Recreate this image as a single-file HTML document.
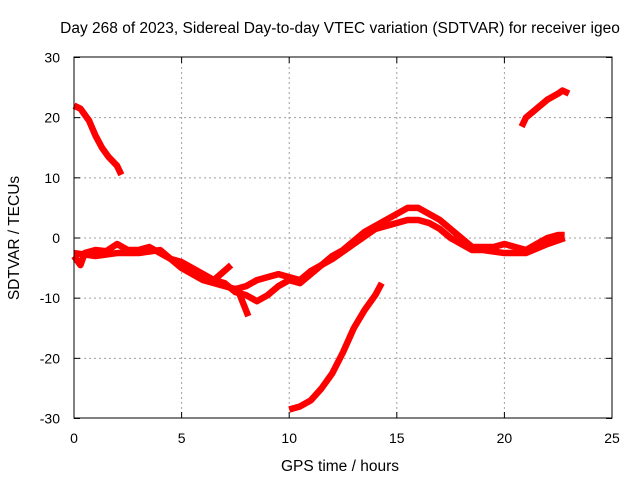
<!DOCTYPE html>
<html><head><meta charset="utf-8"><style>
body{margin:0;background:#fff}
svg{display:block;font-family:"Liberation Sans",sans-serif;font-size:14px}
</style></head><body>
<svg width="640" height="480" id="c">
<text x="340" y="33" text-anchor="middle" font-size="15.5">Day 268 of 2023, Sidereal Day-to-day VTEC variation (SDTVAR) for receiver igeo</text>
<text x="340" y="471" text-anchor="middle" font-size="15.5">GPS time / hours</text>
<text transform="translate(19,238) rotate(-90)" text-anchor="middle" font-size="15.5">SDTVAR / TECUs</text>
<g id="grid"></g><g id="series"></g>
<rect x="74" y="57" width="538" height="361" fill="none" stroke="#000"/>
</svg>
<script>
const xTicks=[0,5,10,15,20,25];
const yTicks=[-30,-20,-10,0,10,20,30];
const seg1=[[0,22],[0.3,21.5],[0.7,19.5],[1,17],[1.3,15],[1.6,13.5],[2,12],[2.2,10.5]];
const seg2=[[10,-28.5],[10.5,-28],[11,-27],[11.5,-25],[12,-22.5],[12.5,-19],[13,-15],[13.5,-12],[14,-9.5],[14.3,-7.5]];
const seg3=[[20.8,18.5],[21,20],[21.5,21.5],[22,23],[22.5,24],[22.7,24.5],[23,24]];
const trackA=[[0,-3],[0.3,-4.5],[0.5,-2.5],[1,-2],[1.5,-2.2],[2,-1],[2.5,-2],[3,-2],[3.5,-1.5],[4,-2.5],[4.5,-3.5],[5,-4],[5.5,-5],[6,-6],[6.5,-7],[7,-7.5],[7.5,-9],[8,-9.5],[8.5,-10.5],[9,-9.5],[9.5,-8],[10,-7],[10.5,-7.5],[11,-6],[11.5,-4.5],[12,-3],[12.5,-2],[13,-0.5],[13.5,1],[14,2],[14.5,3],[15,4],[15.5,5],[16,5],[16.5,4],[17,3],[17.5,1.5],[18,0],[18.5,-1.5],[19,-1.5],[19.5,-1.5],[20,-1],[20.5,-1.5],[21,-2],[21.5,-1],[22,0],[22.5,0.5],[22.8,0.5]];
const trackB=[[0,-2.5],[1,-3],[2,-2.5],[3,-2.5],[4,-2],[5,-5],[6,-7],[7,-8],[7.5,-8.5],[8,-8],[8.5,-7],[9,-6.5],[9.5,-6],[10,-6.5],[10.5,-7],[11,-5.5],[12,-3.5],[13,-1],[14,1.5],[15,2.5],[15.5,3],[16,3],[16.5,2.5],[17,1.5],[17.5,0],[18,-1],[18.5,-2],[19,-2],[20,-2.5],[21,-2.5],[22,-1],[22.8,0]];
const spike1=[[7.6,-8.5],[8.1,-13]];
const spike2=[[6.5,-7],[7.3,-4.5]];
const X=h=>74+h*538/25, Y=v=>238-v*361/60;
const NS="http://www.w3.org/2000/svg";
const g=document.getElementById('grid'), s=document.getElementById('series');
function mk(t,a,p){const e=document.createElementNS(NS,t);for(const k in a)e.setAttribute(k,a[k]);p.appendChild(e);return e;}
xTicks.forEach(t=>{const x=X(t);
 if(t>0&&t<25){const l=mk('line',{x1:x,x2:x,y1:57,y2:418,stroke:'#a0a0a0','stroke-dasharray':'2,3'},g);
 
 }
 mk('line',{x1:x,x2:x,y1:418,y2:412,stroke:'#000'},g);mk('line',{x1:x,x2:x,y1:57,y2:63,stroke:'#000'},g);
 const tx=mk('text',{x:x,y:443,'text-anchor':'middle'},g);tx.textContent=t;
 
 });
yTicks.forEach(t=>{const y=Y(t);
 if(t>-30&&t<30){const l=mk('line',{x1:74,x2:612,y1:y,y2:y,stroke:'#a0a0a0','stroke-dasharray':'2,3'},g);
 
 }
 mk('line',{x1:74,x2:80,y1:y,y2:y,stroke:'#000'},g);mk('line',{x1:612,x2:606,y1:y,y2:y,stroke:'#000'},g);
 const tx=mk('text',{x:60,y:y+5,'text-anchor':'end'},g);tx.textContent=t;
 
 });
[[seg1,'segment-early'],[seg2,'segment-rise'],[seg3,'segment-late'],[trackA,'track-a'],[trackB,'track-b'],[spike1,'spike-down'],[spike2,'spike-up']].forEach(([d,n])=>{
 const p=mk('polyline',{points:d.map(q=>X(q[0])+','+Y(q[1])).join(' '),fill:'none',stroke:'#f00','stroke-width':6.5,'stroke-linejoin':'round'},s);
 
 });
</script>
</body></html>
